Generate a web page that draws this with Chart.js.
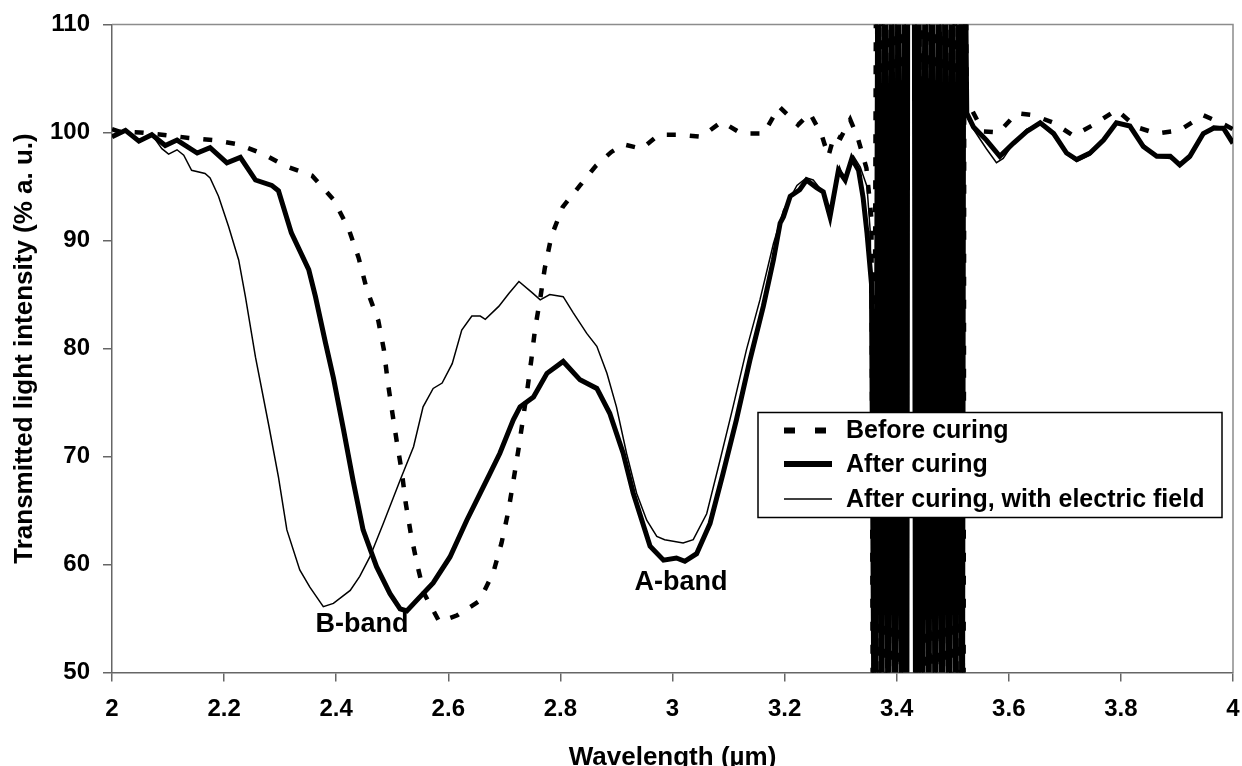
<!DOCTYPE html>
<html>
<head>
<meta charset="utf-8">
<title>Transmitted light intensity vs wavelength</title>
<script src="https://cdn.jsdelivr.net/npm/chart.js@4.4.1/dist/chart.umd.min.js"></script>
<style>
  html, body { margin: 0; padding: 0; background: #fff; }
  #wrap { width: 1242px; height: 766px; position: relative; }
</style>
</head>
<body>
<div id="wrap"><canvas id="spectrumChart"></canvas></div>
<script>
// Values: wavelength (µm) vs transmitted intensity (% a. u.)
// The 3.36-3.52 µm region is saturated: every trace swings off scale there.

// Before curing (dashed)
const beforeX = [
  2.000, 2.012, 2.050, 2.089, 2.137, 2.181, 2.226, 2.270, 2.309, 2.357,
  2.395, 2.422, 2.440, 2.455, 2.475, 2.485, 2.492, 2.500, 2.508, 2.517,
  2.524, 2.533, 2.544, 2.557, 2.584, 2.616, 2.655, 2.680, 2.695, 2.707,
  2.716, 2.725, 2.733, 2.741, 2.748, 2.755, 2.764, 2.772, 2.784, 2.804,
  2.835, 2.863, 2.891, 2.913, 2.945, 2.976, 3.013, 3.051, 3.088, 3.123,
  3.163, 3.190, 3.224, 3.245, 3.266, 3.278, 3.289, 3.300, 3.317, 3.330,
  3.346, 3.355,
  3.358, 3.364, 3.370, 3.376, 3.382, 3.388, 3.394, 3.400, 3.406, 3.412,
  3.416, 3.419, 3.432, 3.436, 3.442, 3.448, 3.454, 3.460, 3.466, 3.472,
  3.478, 3.484, 3.490, 3.496, 3.502, 3.508, 3.514, 3.519, 3.521,
  3.525, 3.554, 3.582, 3.614, 3.644, 3.680, 3.715, 3.754, 3.792, 3.828,
  3.864, 3.905, 3.947, 3.986, 4.000
];
const beforeY = [
  100.3, 100.1, 100.0, 99.8, 99.5, 99.3, 98.9, 98.0, 96.9, 96.0,
  93.8, 91.1, 88.4, 85.4, 82.6, 79.9, 76.9, 74.1, 71.4, 68.6,
  65.7, 62.9, 60.1, 57.3, 54.7, 55.3, 56.6, 59.2, 62.0, 64.9,
  67.7, 70.6, 73.4, 76.2, 78.9, 81.9, 84.6, 87.4, 90.4, 93.1,
  95.1, 96.9, 98.2, 98.9, 98.5, 99.8, 99.8, 99.6, 101.0, 99.9,
  99.9, 102.4, 100.7, 101.8, 99.8, 97.8, 99.8, 99.5, 101.2, 99.6,
  96.7, 92.0,
  30, 130, 30, 130, 30, 130, 30, 130, 30, 130,
  30, 130, 130, 30, 130, 30, 130, 30, 130, 30,
  130, 30, 130, 30, 130, 30, 130, 30, 130,
  103.0, 100.1, 100.0, 101.8, 101.6, 100.9, 99.7, 100.8, 102.1, 100.5,
  99.9, 100.2, 101.6, 100.7, 100.3
];

// After curing (thick solid)
const afterX = [
  2.000, 2.024, 2.048, 2.071, 2.095, 2.116, 2.152, 2.175, 2.205, 2.229,
  2.256, 2.285, 2.297, 2.320, 2.351, 2.363, 2.381, 2.395, 2.413, 2.430,
  2.448, 2.472, 2.496, 2.514, 2.526, 2.544, 2.573, 2.603, 2.633, 2.657,
  2.674, 2.692, 2.716, 2.728, 2.752, 2.776, 2.805, 2.835, 2.865, 2.888,
  2.912, 2.930, 2.960, 2.984, 3.007, 3.022, 3.043, 3.067, 3.090, 3.114,
  3.138, 3.162, 3.180, 3.192, 3.198, 3.210, 3.227, 3.239, 3.257, 3.269,
  3.281, 3.296, 3.308, 3.320, 3.332, 3.340, 3.347, 3.355,
  3.361, 3.367, 3.373, 3.379, 3.385, 3.391, 3.397, 3.403, 3.409, 3.415,
  3.418, 3.420, 3.431, 3.434, 3.439, 3.445, 3.451, 3.457, 3.463, 3.469,
  3.475, 3.481, 3.487, 3.493, 3.499, 3.505, 3.511, 3.517, 3.520,
  3.525, 3.537, 3.560, 3.584, 3.608, 3.632, 3.656, 3.680, 3.703, 3.721,
  3.745, 3.769, 3.792, 3.816, 3.840, 3.864, 3.888, 3.905, 3.923, 3.947,
  3.965, 3.983, 4.000
];
const afterY = [
  99.6, 100.2, 99.2, 99.8, 98.8, 99.3, 98.1, 98.6, 97.2, 97.7,
  95.6, 95.1, 94.6, 90.7, 87.3, 84.8, 80.5, 77.3, 72.5, 67.8,
  63.2, 59.8, 57.3, 55.9, 55.7, 56.7, 58.3, 60.7, 64.1, 66.6,
  68.4, 70.3, 73.4, 74.6, 75.5, 77.7, 78.8, 77.1, 76.3, 74.0,
  70.3, 66.6, 61.7, 60.4, 60.6, 60.3, 61.0, 63.8, 68.4, 73.4,
  78.9, 83.9, 88.2, 91.6, 92.2, 94.1, 94.7, 95.6, 94.9, 94.5,
  92.2, 96.5, 95.6, 97.6, 96.5, 94.0, 90.7, 86.0,
  30, 130, 30, 130, 30, 130, 30, 130, 30, 130,
  40, 130, 130, 30, 130, 30, 130, 30, 130, 30,
  130, 30, 130, 30, 130, 30, 130, 30, 130,
  101.8, 100.5, 99.3, 97.8, 99.0, 100.1, 100.9, 99.9, 98.1, 97.5,
  98.1, 99.3, 100.9, 100.6, 98.7, 97.8, 97.8, 97.0, 97.8, 99.9,
  100.4, 100.4, 99.0
];

// After curing, with electric field (thin solid)
const fieldX = [
  2.000, 2.024, 2.048, 2.071, 2.089, 2.101, 2.116, 2.128, 2.142, 2.166,
  2.175, 2.190, 2.208, 2.226, 2.238, 2.256, 2.280, 2.297, 2.312, 2.335,
  2.353, 2.377, 2.395, 2.425, 2.442, 2.460, 2.484, 2.514, 2.538, 2.555,
  2.573, 2.589, 2.607, 2.624, 2.642, 2.657, 2.666, 2.690, 2.708, 2.726,
  2.749, 2.764, 2.781, 2.805, 2.823, 2.847, 2.865, 2.883, 2.900, 2.918,
  2.936, 2.954, 2.972, 2.986, 3.019, 3.037, 3.061, 3.085, 3.108, 3.132,
  3.156, 3.180, 3.198, 3.222, 3.239, 3.251, 3.268, 3.281, 3.298, 3.307,
  3.323, 3.335, 3.347, 3.353,
  3.360, 3.372, 3.384, 3.396, 3.408, 3.417, 3.432, 3.444, 3.456, 3.468,
  3.480, 3.492, 3.504, 3.516, 3.521,
  3.525, 3.537, 3.560, 3.578, 3.590, 3.608, 3.632, 3.656, 3.680, 3.703,
  3.721, 3.745, 3.769, 3.792, 3.816, 3.840, 3.864, 3.888, 3.905, 3.923,
  3.947, 3.965, 3.983, 4.000
];
const fieldY = [
  99.6, 100.2, 99.2, 99.8, 98.5, 98.0, 98.4, 97.9, 96.5, 96.2,
  95.8, 94.1, 91.3, 88.2, 84.8, 79.2, 72.8, 68.1, 63.2, 59.5,
  57.9, 56.1, 56.4, 57.6, 58.9, 60.7, 63.8, 67.8, 70.9, 74.6,
  76.3, 76.8, 78.6, 81.7, 83.0, 83.0, 82.7, 83.9, 85.1, 86.2,
  85.2, 84.5, 85.0, 84.8, 83.3, 81.4, 80.2, 77.7, 74.6, 70.3,
  66.6, 64.1, 62.6, 62.3, 62.0, 62.3, 64.7, 69.7, 74.6, 79.9,
  84.5, 89.7, 92.8, 95.1, 95.8, 95.6, 94.5, 92.2, 96.8, 95.6,
  97.8, 96.8, 95.0, 90.7,
  30, 130, 30, 130, 30, 130, 130, 30, 130, 30,
  130, 30, 130, 30, 130,
  101.5, 100.3, 98.5, 97.2, 97.6, 99.0, 100.3, 100.8, 99.7, 98.0,
  97.3, 97.9, 99.2, 100.8, 100.7, 98.9, 97.7, 97.6, 97.0, 97.6,
  99.7, 100.6, 100.5, 99.3
];

const seriesNames = ['Before curing', 'After curing', 'After curing, with electric field'];

const xTickValues = [2, 2.2, 2.4, 2.6, 2.8, 3, 3.2, 3.4, 3.6, 3.8, 4];
const xTickLabels = ['2', '2.2', '2.4', '2.6', '2.8', '3', '3.2', '3.4', '3.6', '3.8', '4'];
const yTickValues = [50, 60, 70, 80, 90, 100, 110];
const yTickLabels = ['50', '60', '70', '80', '90', '100', '110'];

// Band annotations (text, wavelength, intensity)
const noteText = ['B-band', 'A-band'];
const noteX = [2.446, 3.015];
const noteY = [54.4, 58.3];

const FONT = '"Liberation Sans", Arial, Helvetica, sans-serif';
Chart.defaults.font.family = FONT;
Chart.defaults.color = '#000';

function toPoints(xs, ys) {
    return xs.map((x, i) => ({ x: x, y: ys[i] }));
}

const lineStyles = [
    { borderWidth: 4.5, borderDash: [9, 14], legendWidth: 6, legendDash: [11, 20] },
    { borderWidth: 5, borderDash: [], legendWidth: 6, legendDash: [] },
    { borderWidth: 1.5, borderDash: [], legendWidth: 1.5, legendDash: [] }
];

// Plot frame, band labels and the boxed legend inside the plot
const framePlugin = {
    id: 'framePlugin',
    beforeDatasetsDraw(chart) {
        const a = chart.chartArea;
        const ctx = chart.ctx;
        ctx.save();
        ctx.strokeStyle = '#8c8c8c';
        ctx.lineWidth = 1.5;
        ctx.beginPath();
        ctx.moveTo(a.left, a.top);
        ctx.lineTo(a.right, a.top);
        ctx.lineTo(a.right, a.bottom);
        ctx.stroke();
        ctx.restore();
    },
    afterDraw(chart) {
        const ctx = chart.ctx;
        const a = chart.chartArea;
        const xs = chart.scales.x;
        const ys = chart.scales.y;

        ctx.save();
        ctx.fillStyle = '#000';
        ctx.font = 'bold 27px ' + FONT;
        ctx.textAlign = 'center';
        ctx.textBaseline = 'middle';
        noteText.forEach((t, i) => {
            ctx.fillText(t, xs.getPixelForValue(noteX[i]), ys.getPixelForValue(noteY[i]));
        });

        // legend box
        const boxL = a.left + 646;
        const boxT = a.top + 388;
        const boxW = 464;
        const boxH = 105;
        ctx.fillStyle = '#fff';
        ctx.fillRect(boxL, boxT, boxW, boxH);
        ctx.strokeStyle = '#000';
        ctx.lineWidth = 1.5;
        ctx.strokeRect(boxL, boxT, boxW, boxH);

        ctx.font = 'bold 25px ' + FONT;
        ctx.textAlign = 'left';
        ctx.textBaseline = 'middle';
        const rowY = [18, 51.5, 86.5];
        seriesNames.forEach((name, i) => {
            const y = boxT + rowY[i];
            ctx.strokeStyle = '#000';
            ctx.lineWidth = lineStyles[i].legendWidth;
            ctx.setLineDash(lineStyles[i].legendDash);
            ctx.beginPath();
            ctx.moveTo(boxL + 26, y);
            ctx.lineTo(boxL + 74, y);
            ctx.stroke();
            ctx.setLineDash([]);
            ctx.fillStyle = '#000';
            ctx.fillText(name, boxL + 88, y + 1);
        });
        ctx.restore();
    }
};

const seriesData = [
    toPoints(beforeX, beforeY),
    toPoints(afterX, afterY),
    toPoints(fieldX, fieldY)
];

const ctx = document.getElementById('spectrumChart').getContext('2d');
new Chart(ctx, {
    type: 'line',
    data: {
        datasets: seriesNames.map((name, i) => ({
            label: name,
            data: seriesData[i],
            borderColor: '#000',
            backgroundColor: '#000',
            borderWidth: lineStyles[i].borderWidth,
            borderDash: lineStyles[i].borderDash,
            pointRadius: 0,
            tension: 0,
            fill: false
        }))
    },
    options: {
        responsive: true,
        maintainAspectRatio: false,
        animation: false,
        devicePixelRatio: 1,
        layout: {
            padding: { top: 24.5, right: 9, bottom: 0, left: 0 }
        },
        plugins: {
            legend: { display: false },
            tooltip: { enabled: false }
        },
        scales: {
            x: {
                type: 'linear',
                min: 2,
                max: 4,
                afterBuildTicks: function(scale) {
                    scale.ticks = xTickValues.map(v => ({ value: v }));
                },
                afterFit: function(scale) {
                    scale.height = 93.5;
                    scale.paddingLeft = 0;
                    scale.paddingRight = 0;
                },
                ticks: {
                    autoSkip: false,
                    maxRotation: 0,
                    padding: 13,
                    font: { size: 24, weight: 'bold' },
                    color: '#000',
                    callback: function(value, index) {
                        return xTickLabels[index];
                    }
                },
                grid: {
                    drawOnChartArea: false,
                    drawTicks: true,
                    tickLength: 9,
                    color: '#666',
                    lineWidth: 1.5
                },
                border: { display: true, color: '#666', width: 1.5 },
                title: {
                    display: true,
                    text: 'Wavelength (µm)',
                    font: { size: 26, weight: 'bold', lineHeight: 0.65 },
                    padding: { top: 0, bottom: 0 },
                    color: '#000'
                }
            },
            y: {
                type: 'linear',
                min: 50,
                max: 110,
                afterBuildTicks: function(scale) {
                    scale.ticks = yTickValues.map(v => ({ value: v }));
                },
                afterFit: function(scale) {
                    scale.width = 112;
                    scale.paddingTop = 0;
                    scale.paddingBottom = 0;
                },
                ticks: {
                    padding: 13,
                    font: { size: 24, weight: 'bold' },
                    color: '#000',
                    callback: function(value, index) {
                        return yTickLabels[index];
                    }
                },
                grid: {
                    drawOnChartArea: false,
                    drawTicks: true,
                    tickLength: 9,
                    color: '#666',
                    lineWidth: 1.5
                },
                border: { display: true, color: '#666', width: 1.5 },
                title: {
                    display: true,
                    text: 'Transmitted light intensity (% a. u.)',
                    font: { size: 26, weight: 'bold', lineHeight: 1 },
                    padding: { top: 12, bottom: 0 },
                    color: '#000'
                }
            }
        }
    },
    plugins: [framePlugin]
});
</script>
</body>
</html>
